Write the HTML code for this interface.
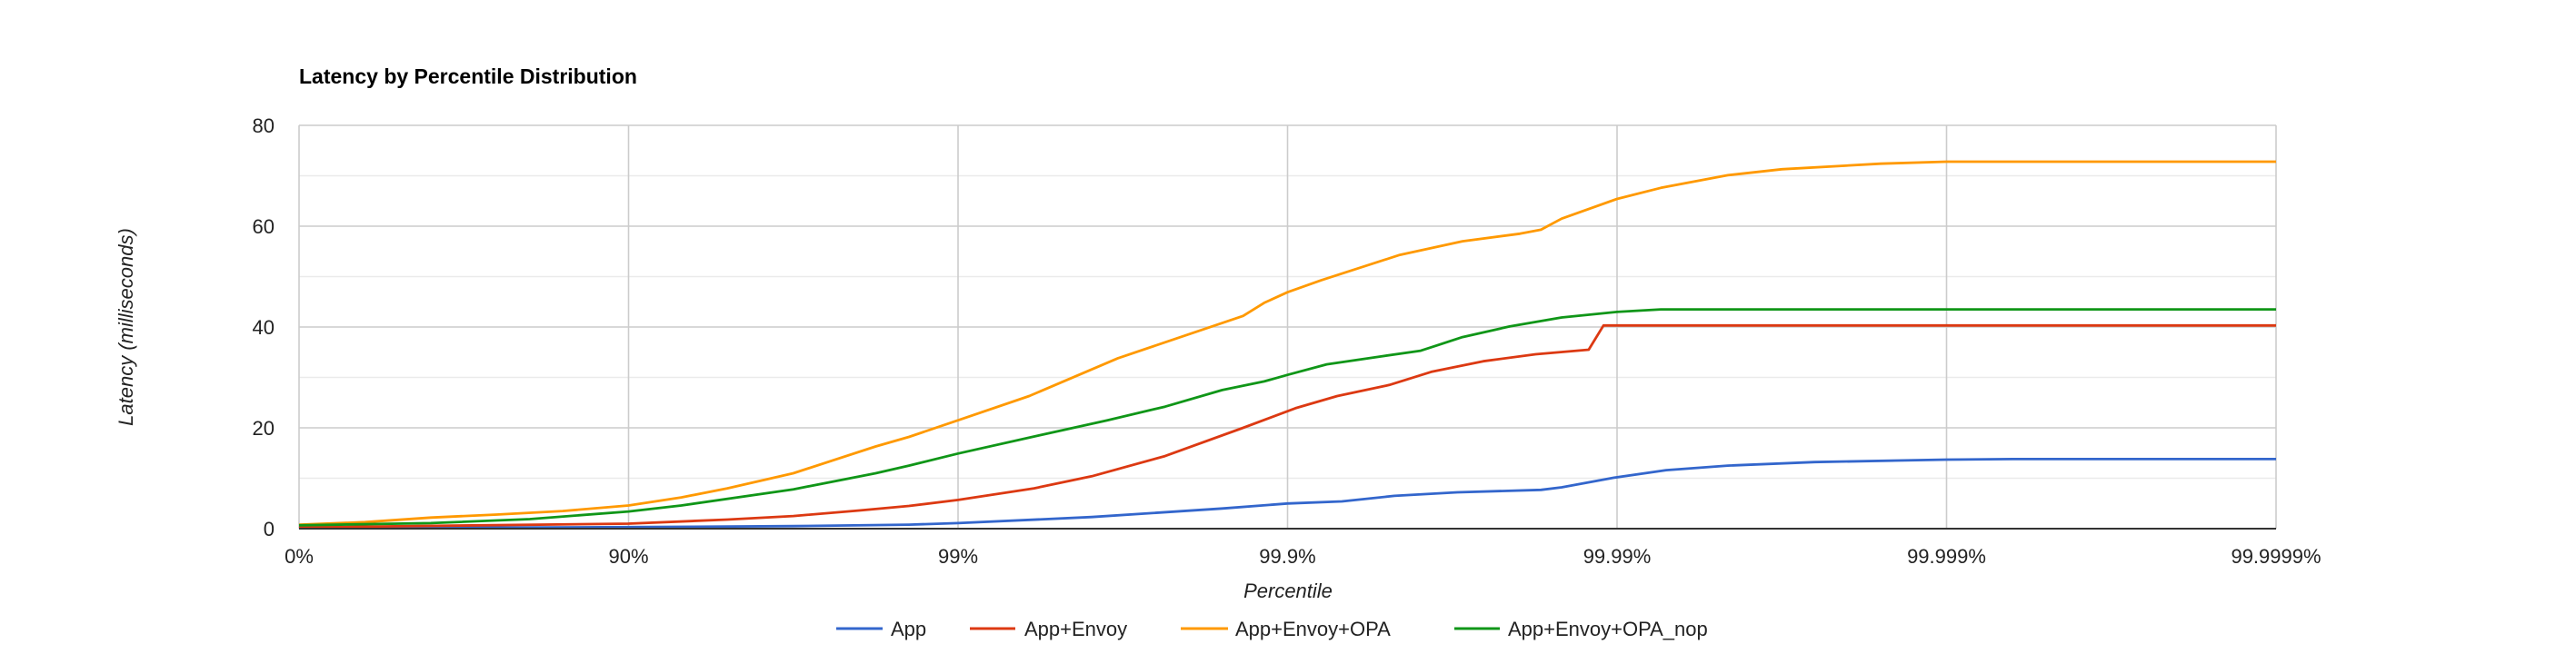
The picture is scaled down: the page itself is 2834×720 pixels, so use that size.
<!DOCTYPE html>
<html><head><meta charset="utf-8"><style>
html,body{margin:0;padding:0;background:#fff;width:2834px;height:720px;overflow:hidden}
text{font-family:"Liberation Sans",Arial,sans-serif}
</style></head><body>
<svg id="s" width="2834" height="720" viewBox="0 0 2834 720" xmlns="http://www.w3.org/2000/svg">
<text x="329" y="92" font-size="23" font-weight="bold" fill="#000">Latency by Percentile Distribution</text>
<g id="grid"></g>
<g id="series" fill="none" stroke-width="2.8" stroke-linejoin="round"></g>
<text x="1417" y="658" font-size="22" font-style="italic" text-anchor="middle" fill="#222">Percentile</text>
<text transform="translate(146,360) rotate(-90)" font-size="22" font-style="italic" text-anchor="middle" fill="#222">Latency (milliseconds)</text>
<g font-size="22" fill="#222">
<line x1="920" y1="692" x2="971" y2="692" stroke="#3366cc" stroke-width="3"/><text x="980" y="700">App</text>
<line x1="1067" y1="692" x2="1117" y2="692" stroke="#dc3912" stroke-width="3"/><text x="1127" y="700">App+Envoy</text>
<line x1="1299" y1="692" x2="1351" y2="692" stroke="#ff9900" stroke-width="3"/><text x="1359" y="700">App+Envoy+OPA</text>
<line x1="1600" y1="692" x2="1650" y2="692" stroke="#109618" stroke-width="3"/><text x="1659" y="700">App+Envoy+OPA_nop</text>
</g>
</svg>
<script>
var L=329,R=2504,T=138,B=582,ns="http://www.w3.org/2000/svg";
function X(u){return L+u*(R-L)/6}function Y(v){return B-v*(B-T)/80}
var g=document.getElementById('grid'),h='';
for(var i=1;i<8;i++){var y=Y(i*10);h+='<line x1="'+L+'" x2="'+R+'" y1="'+y+'" y2="'+y+'" stroke="'+(i%2?'#ebebeb':'#cccccc')+'" stroke-width="1.6"/>';}
h+='<line x1="'+L+'" x2="'+R+'" y1="'+T+'" y2="'+T+'" stroke="#cccccc" stroke-width="1.6"/>';
for(var i=0;i<=6;i++){var x=X(i);h+='<line x1="'+x+'" x2="'+x+'" y1="'+T+'" y2="'+B+'" stroke="#cccccc" stroke-width="1.6"/>';}
var yl=[0,20,40,60,80];yl.forEach(function(v){h+='<text x="302" y="'+(Y(v)+8)+'" font-size="22" text-anchor="end" fill="#222">'+v+'</text>';});
var xl=['0%','90%','99%','99.9%','99.99%','99.999%','99.9999%'];
xl.forEach(function(t,i){h+='<text x="'+X(i)+'" y="620" font-size="22" text-anchor="middle" fill="#222">'+t+'</text>';});
g.innerHTML=h;
var S={
'#3366cc':[[0,0.1],[1,0.3],[1.5,0.5],[1.851,0.8],[2,1.1],[2.406,2.3],[2.802,4],[3,5],[3.165,5.4],[3.324,6.5],[3.515,7.2],[3.769,7.7],[3.832,8.2],[3.991,10.1],[4.149,11.6],[4.336,12.5],[4.6,13.2],[5,13.7],[5.2,13.8],[6,13.8]],
'#dc3912':[[0,0.25],[1,1],[1.3,1.8],[1.5,2.5],[1.7,3.6],[1.851,4.5],[2,5.7],[2.231,8],[2.406,10.4],[2.628,14.4],[2.865,20],[3.024,23.9],[3.151,26.3],[3.309,28.5],[3.436,31.1],[3.594,33.2],[3.753,34.6],[3.914,35.5],[3.959,40.3],[6,40.3]],
'#ff9900':[[0,0.8],[0.2,1.3],[0.4,2.2],[0.6,2.8],[0.8,3.5],[1,4.6],[1.16,6.2],[1.3,8],[1.5,11],[1.75,16.3],[1.851,18.2],[2,21.5],[2.216,26.3],[2.485,33.8],[2.865,42.2],[2.929,44.8],[3,46.9],[3.103,49.3],[3.341,54.3],[3.531,57],[3.705,58.5],[3.769,59.3],[3.832,61.5],[4,65.4],[4.133,67.6],[4.336,70.1],[4.5,71.3],[4.8,72.4],[5,72.8],[6,72.8]],
'#109618':[[0,0.66],[0.4,1.1],[0.7,1.9],[1,3.4],[1.16,4.6],[1.5,7.8],[1.75,11],[1.851,12.5],[2,14.9],[2.247,18.5],[2.453,21.5],[2.628,24.2],[2.802,27.5],[2.929,29.2],[3,30.5],[3.119,32.6],[3.277,34.1],[3.404,35.3],[3.531,38],[3.674,40.1],[3.832,41.9],[4,43],[4.133,43.5],[6,43.5]]};
var sg=document.getElementById('series'),o='';
['#3366cc','#dc3912','#ff9900','#109618'].forEach(function(c){o+='<polyline stroke="'+c+'" points="'+S[c].map(function(p){return X(p[0]).toFixed(1)+','+Y(p[1]).toFixed(1)}).join(' ')+'"/>';});
sg.innerHTML=o;
var ax=document.createElementNS(ns,'line');ax.setAttribute('x1',L);ax.setAttribute('x2',R);ax.setAttribute('y1',B);ax.setAttribute('y2',B);ax.setAttribute('stroke','#333');ax.setAttribute('stroke-width','2');
document.getElementById('s').appendChild(ax);
</script>
</body></html>
